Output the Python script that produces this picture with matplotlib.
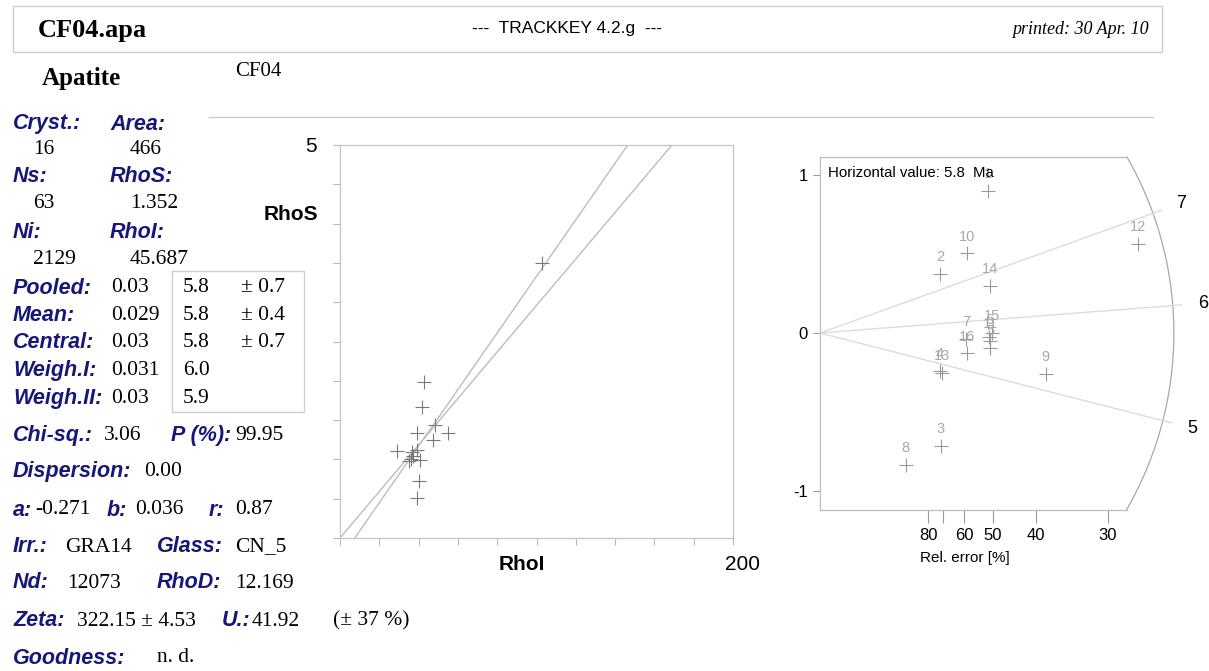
import matplotlib

matplotlib.use("Agg")
import matplotlib.pyplot as plt
import numpy as np
from matplotlib.lines import Line2D
from matplotlib.patches import Rectangle

W, H = 1209, 671

# ---- scatter: RhoS vs RhoI per crystal ----
rho_i = [102.8, 42.9, 41.9, 48.3, 54.8, 39.0, 47.2, 28.9,
         39.0, 36.0, 35.1, 37.2, 40.7, 40.4, 39.0, 36.6]
rho_s = [3.50, 1.99, 1.67, 1.44, 1.34, 1.34, 1.25, 1.11,
         1.12, 1.01, 0.98, 1.04, 0.99, 0.73, 0.51, 1.09]
pooled_ratio = 1.352 / 45.687
fit_a, fit_b = -0.271, 0.036

# ---- radial plot ----
grain_id = [1, 2, 3, 4, 5, 6, 7, 8, 9, 10, 11, 12, 13, 14, 15, 16]
precision = [1.944, 1.389, 1.400, 1.389, 1.968, 1.956, 1.690, 0.992,
             2.612, 1.705, 1.968, 3.684, 1.410, 1.968, 1.990, 1.705]
z_score = [0.899, 0.373, -0.715, -0.240, -0.095, -0.025, -0.038, -0.835,
           -0.259, 0.504, -0.050, 0.563, -0.253, 0.299, 0.000, -0.128]
central_age = 5.75  # shown rounded as 5.8
arc_ages = [5, 6, 7]
rel_err_ticks = [80, 70, 60, 50, 40, 30]
rel_err_labels = ["80", "", "60", "50", "40", "30"]

# ---- text block ----
LBL = "#17177a"
SANS = "Liberation Sans"
SERIF = "Liberation Serif"


def fx(x):
    return x / W


def fy(y):
    return 1 - y / H


fig = plt.figure(figsize=(W / 100, H / 100), dpi=100)
fig.patch.set_facecolor("white")


def label(x, y, s, size=15.5):
    fig.text(fx(x), fy(y), s, color=LBL, fontsize=size, fontweight="bold",
             fontstyle="italic", family=SANS, va="center", ha="left")


def value(x, y, s, size=15.5):
    fig.text(fx(x), fy(y), s, color="black", fontsize=size, family=SERIF,
             va="center", ha="left")


# header
fig.add_artist(Rectangle((fx(13), fy(52)), (1162 - 13) / W, 46 / H,
                         transform=fig.transFigure, fill=False,
                         ec="#cfcfcf", lw=1))
fig.text(fx(38), fy(31), "CF04.apa", fontsize=19, fontweight="bold",
         family=SERIF, va="center")
fig.text(fx(567), fy(28), "---  TRACKKEY 4.2.g  ---", fontsize=12.5,
         family=SANS, va="center", ha="center")
fig.text(fx(1149), fy(29), "printed: 30 Apr. 10", fontsize=13,
         fontstyle="italic", family=SERIF, va="center", ha="right")
fig.text(fx(42), fy(78), "Apatite", fontsize=18, fontweight="bold",
         family=SERIF, va="center")
fig.text(fx(235), fy(71), "CF04", fontsize=15, family=SERIF, va="center")
fig.add_artist(Line2D([fx(209), fx(1153)], [fy(117), fy(117)],
                      transform=fig.transFigure, color="#cfcfcf", lw=1))

# left summary
label(13, 124, "Cryst.:"); label(110, 124, "Area:")
value(33, 150, "16"); value(130, 150, "466")
label(13, 177, "Ns:"); label(110, 177, "RhoS:")
value(33, 204, "63"); value(130, 204, "1.352")
label(13, 232, "Ni:"); label(110, 232, "RhoI:")
value(33, 260, "2129"); value(130, 260, "45.687")

fig.add_artist(Rectangle((fx(172), fy(412)), 132 / W, 141 / H,
                         transform=fig.transFigure, fill=False,
                         ec="#cfcfcf", lw=1))
rows = [("Pooled:", "0.03", "5.8", "± 0.7"),
        ("Mean:", "0.029", "5.8", "± 0.4"),
        ("Central:", "0.03", "5.8", "± 0.7"),
        ("Weigh.I:", "0.031", "6.0", ""),
        ("Weigh.II:", "0.03", "5.9", "")]
for k, (name, ratio, age, err) in enumerate(rows):
    y = 288 + 27.5 * k
    label(13, y, name)
    value(111, y, ratio)
    value(183, y, age)
    value(241, y, err)

label(13, 436, "Chi-sq.:"); value(104, 436, "3.06")
label(171, 436, "P (%):"); value(235, 436, "99.95")
label(13, 472, "Dispersion:"); value(144, 472, "0.00")
label(13, 510, "a:"); value(35, 510, "-0.271")
label(107, 510, "b:"); value(135, 510, "0.036")
label(209, 510, "r:"); value(235, 510, "0.87")
label(13, 547, "Irr.:"); value(65, 547, "GRA14")
label(157, 547, "Glass:"); value(235, 547, "CN_5")
label(13, 583, "Nd:"); value(67, 583, "12073")
label(157, 583, "RhoD:"); value(235, 583, "12.169")
label(13, 621, "Zeta:"); value(77, 621, "322.15 ± 4.53")
label(222, 621, "U.:"); value(252, 621, "41.92")
value(333, 621, "(± 37 %)")
label(13, 658, "Goodness:"); value(157, 658, "n. d.")

# ---- RhoS vs RhoI scatter ----
ax = fig.add_axes([fx(340), fy(538), 393 / W, 393 / H])
ax.set_xlim(0, 200)
ax.set_ylim(0, 5)
ax.set_xticks(np.arange(0, 201, 20))
ax.set_yticks(np.arange(0, 5.01, 0.5))
ax.tick_params(length=5, width=0.8, color="#b8b8b8",
               labelbottom=False, labelleft=False)
for sp in ax.spines.values():
    sp.set_color("#c4c4c4")
    sp.set_linewidth(0.9)
xx = np.array([0, 200])
ax.plot(xx, pooled_ratio * xx, color="#bdbdbd", lw=1)
ax.plot(xx, fit_a + fit_b * xx, color="#bdbdbd", lw=1)
ax.plot(rho_i, rho_s, ls="none", marker="+", ms=10, mew=0.8, color="#7a7a7a")
fig.text(fx(317), fy(147), "5", fontsize=15, family=SANS, va="center",
         ha="right")
fig.text(fx(318), fy(214), "RhoS", fontsize=15, fontweight="bold",
         family=SANS, va="center", ha="right")
fig.text(fx(522), fy(565), "RhoI", fontsize=15, fontweight="bold",
         family=SANS, va="center", ha="center")
fig.text(fx(742), fy(565), "200", fontsize=15, family=SANS, va="center",
         ha="center")

# ---- radial plot ----
rx = fig.add_axes([fx(820), fy(510), 389 / W, 353 / H])
x_max, y_top, y_bot = 3.553, 1.114, -1.120
rx.set_xlim(0, 389 / 86.4)
rx.set_ylim(y_bot, y_top)
rx.patch.set_alpha(0)
sx = 86.4
sy = 353 / (y_top - y_bot)
rx.spines["right"].set_visible(False)
for side in ("left", "top", "bottom"):
    rx.spines[side].set_color("#bdbdbd")
    rx.spines[side].set_linewidth(0.9)
rx.spines["top"].set_bounds(0, x_max)
rx.spines["bottom"].set_bounds(0, x_max)

rx.set_yticks([-1, 0, 1])
rx.set_yticklabels(["-1", "0", "1"])
rx.set_xticks([100 / e for e in rel_err_ticks])
rx.set_xticklabels(rel_err_labels)
rx.tick_params(axis="y", length=5, width=0.8, color="#9a9a9a", pad=4,
               labelsize=12)
rx.tick_params(axis="x", length=9, width=0.8, color="#9a9a9a", pad=4,
               labelsize=12)
for t in rx.get_xticklabels() + rx.get_yticklabels():
    t.set_family(SANS)

# arc through the corners of the frame (circle in screen space)
r_arc = np.hypot(x_max * sx, y_top * sy)
th = np.linspace(np.arctan2(y_bot * sy, x_max * sx),
                 np.arctan2(y_top * sy, x_max * sx), 200)
rx.plot(r_arc * np.cos(th) / sx, r_arc * np.sin(th) / sy, color="#a8a8a8",
        lw=0.9, clip_on=False)

for age in arc_ages:
    phi = np.arctan2(np.log(age / central_age) * sy, sx)
    r_end, r_lab = r_arc + 9, r_arc + 30
    rx.plot([0, r_end * np.cos(phi) / sx], [0, r_end * np.sin(phi) / sy],
            color="#dcdcdc", lw=1, clip_on=False)
    rx.text(r_lab * np.cos(phi) / sx, r_lab * np.sin(phi) / sy, str(age),
            fontsize=13, family=SANS, ha="center", va="center",
            clip_on=False)

rx.plot(precision, z_score, ls="none", marker="+", ms=10, mew=0.8,
        color="#9a9a9a")
for gid, px, pz in zip(grain_id, precision, z_score):
    rx.annotate(str(gid), (px, pz), xytext=(0, 12), textcoords="offset points",
                ha="center", va="center", fontsize=10.5, family=SANS,
                color="#a8a8a8")

rx.text(0.09, 1.015, "Horizontal value: 5.8  Ma", fontsize=10.8, family=SANS,
        va="center", ha="left")
fig.text(fx(965), fy(558), "Rel. error [%]", fontsize=11, family=SANS,
         va="center", ha="center")

fig.savefig("out.png", dpi=100)
